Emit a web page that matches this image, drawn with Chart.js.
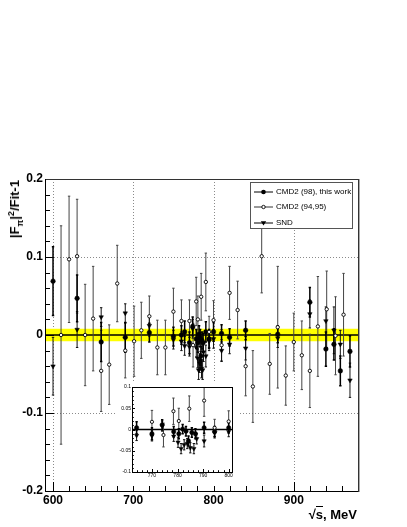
<!DOCTYPE html>
<html><head><meta charset="utf-8">
<script src="https://cdn.jsdelivr.net/npm/chart.js@4.4.1/dist/chart.umd.min.js"></script>
<style>
html,body{margin:0;padding:0;background:#fff;}
#wrap{position:relative;width:407px;height:527px;overflow:hidden;font-family:"Liberation Sans",Arial,Helvetica,sans-serif;}
#main{position:absolute;left:0;top:0;}
#insetBox{position:absolute;left:117px;top:382px;width:121px;height:104px;background:#fff;}
#inset{position:absolute;left:0;top:0;}
#legend{position:absolute;left:250px;top:182px;width:101px;height:45px;border:1px solid #555;background:#fff;will-change:transform;transform:translateZ(0);-webkit-font-smoothing:antialiased;}
#legend .row{position:absolute;left:0;height:10px;width:101px;}
#legend svg{position:absolute;left:2px;top:0;}
#legend span{position:absolute;left:25px;top:0;font-size:8px;line-height:10px;color:#000;white-space:nowrap;}
#ytitle{position:absolute;left:7px;top:180px;transform-origin:0 0;transform:rotate(-90deg) translateX(-100%);font-weight:bold;font-size:13px;line-height:15px;white-space:nowrap;color:#000;}
#ytitle sub,#ytitle sup{font-size:9px;line-height:0;}
#xtitle{position:absolute;right:50px;top:507px;font-weight:bold;font-size:13px;line-height:15px;white-space:nowrap;color:#000;}
#xtitle .rad{border-top:1.2px solid #000;padding-top:0px;}
</style>
</head><body>
<div id="wrap">
<canvas id="main" width="407" height="527"></canvas>
<div id="insetBox"><canvas id="inset" width="121" height="104"></canvas></div>
<div id="legend">
  <div class="row" style="top:4px"><svg width="22" height="10"><line x1="1" y1="5" x2="20" y2="5" stroke="#000" stroke-width="1"/><circle cx="10.5" cy="5" r="2.3" fill="#000"/></svg><span id="l0"></span></div>
  <div class="row" style="top:19px"><svg width="22" height="10"><line x1="1" y1="5" x2="20" y2="5" stroke="#333" stroke-width="1"/><circle cx="10.5" cy="5" r="1.7" fill="#fff" stroke="#000" stroke-width="0.9"/></svg><span id="l1"></span></div>
  <div class="row" style="top:35px"><svg width="22" height="10"><line x1="1" y1="5" x2="20" y2="5" stroke="#000" stroke-width="1"/><polygon points="7.8,3.3 13.2,3.3 10.5,7.6" fill="#000"/></svg><span id="l2"></span></div>
</div>
<div id="ytitle">|F<sub>π</sub>|<sup>2</sup>/Fit-1</div>
<div id="xtitle">√<span class="rad">s</span>, MeV</div>
</div>
<script>
// ---- axis ranges and tick labels ----
const xMin = 590, xMax = 980;
const yMin = -0.2, yMax = 0.2;
const xTicks = [600, 700, 800, 900];
const yTicks = [-0.2, -0.1, 0, 0.1, 0.2];
const insetXMin = 762.2, insetXMax = 801.3;
const insetYMin = -0.1, insetYMax = 0.1;
const insetXTicks = [770, 780, 790, 800];
const insetYTicks = [-0.1, -0.05, 0, 0.05, 0.1];
const fitBand = [-0.008, 0.008];
const seriesNames = ['CMD2 (98), this work', 'CMD2 (94,95)', 'SND'];

// ---- CMD2 (98), this work ----
const cmd98X = [600, 630, 660, 690, 720, 750, 760, 764, 770, 774, 778.5, 780.5, 782, 783.3, 784.3, 785.6, 787, 790.4, 794.5, 800, 810, 820, 840, 880, 920, 940, 950, 958, 970];
const cmd98Y = [0.069, 0.047, -0.009, -0.003, 0.003, -0.002, 0.000, 0.004, -0.010, 0.011, -0.005, -0.010, 0.001, -0.004, -0.027, -0.007, -0.010, 0.004, -0.005, 0.004, 0.002, -0.003, 0.006, 0.001, 0.042, -0.018, -0.012, -0.046, -0.021];
const cmd98Err = [0.044, 0.030, 0.025, 0.019, 0.012, 0.012, 0.012, 0.014, 0.014, 0.012, 0.012, 0.012, 0.011, 0.011, 0.012, 0.011, 0.012, 0.013, 0.012, 0.012, 0.011, 0.011, 0.012, 0.011, 0.019, 0.022, 0.020, 0.019, 0.020];

// ---- CMD2 (94,95) ----
const cmd9495X = [610, 620, 630, 640, 650, 660, 670, 680, 690, 701, 710, 720, 730, 740, 750, 760, 770, 774.5, 778.4, 780.5, 784.6, 790.4, 794.5, 800, 810, 820, 830, 840, 849, 860, 870, 880, 890, 900, 910, 920, 930, 941, 952, 962];
const cmd9495Y = [0.000, 0.097, 0.101, 0.000, 0.021, -0.046, -0.038, 0.066, -0.020, -0.008, 0.006, 0.024, -0.016, -0.016, 0.030, 0.018, 0.018, -0.013, 0.043, 0.020, 0.049, 0.068, 0.004, 0.019, -0.013, 0.054, 0.032, -0.040, -0.066, 0.101, -0.037, 0.010, -0.052, -0.009, -0.026, -0.046, 0.011, 0.033, -0.001, 0.026];
const cmd9495Err = [0.140, 0.081, 0.073, 0.065, 0.067, 0.052, 0.051, 0.049, 0.035, 0.045, 0.036, 0.026, 0.035, 0.035, 0.030, 0.027, 0.027, 0.028, 0.031, 0.030, 0.030, 0.037, 0.020, 0.025, 0.020, 0.034, 0.037, 0.038, 0.046, 0.047, 0.039, 0.078, 0.038, 0.037, 0.044, 0.047, 0.064, 0.049, 0.050, 0.053];

// ---- SND ----
const sndX = [600, 630, 660, 690, 720, 750, 760, 764, 770, 774, 778.5, 780.2, 781.4, 782.6, 783.8, 785, 786.4, 787.5, 790.4, 794.5, 800, 810, 820, 840, 880, 920, 940, 950, 958, 970];
const sndY = [-0.040, 0.007, 0.023, 0.028, 0.012, -0.006, -0.008, -0.014, -0.015, 0.008, -0.016, -0.030, -0.045, -0.036, -0.033, -0.043, -0.045, -0.022, -0.027, -0.008, -0.005, -0.020, -0.012, -0.017, -0.004, 0.027, 0.018, 0.006, -0.012, -0.058];
const sndErr = [0.037, 0.023, 0.012, 0.012, 0.012, 0.012, 0.012, 0.012, 0.012, 0.012, 0.012, 0.012, 0.012, 0.012, 0.012, 0.012, 0.012, 0.012, 0.014, 0.012, 0.012, 0.014, 0.012, 0.015, 0.012, 0.018, 0.018, 0.030, 0.018, 0.022];

document.getElementById('l0').textContent = seriesNames[0];
document.getElementById('l1').textContent = seriesNames[1];
document.getElementById('l2').textContent = seriesNames[2];

function pts(xs, ys){ return xs.map((x,i)=>({x:x, y:ys[i]})); }
function fmt(v){ const r = Math.round(v*1000)/1000; return r===0 ? '0' : String(r); }

function makeDatasets(sc){
  return [
    {label:seriesNames[1], data:pts(cmd9495X,cmd9495Y), errors:cmd9495Err, errColor:'#444', errWidth:1,
     pointStyle:'circle', pointRadius:1.7*sc, backgroundColor:'#fff', borderColor:'#000', borderWidth:0.9, clip:0},
    {label:seriesNames[2], data:pts(sndX,sndY), errors:sndErr, errColor:'#111', errWidth:1,
     pointStyle:'triangle', rotation:180, pointRadius:2.6*sc, backgroundColor:'#000', borderColor:'#000', borderWidth:0.5, clip:0},
    {label:seriesNames[0], data:pts(cmd98X,cmd98Y), errors:cmd98Err, errColor:'#000', errWidth:1.5,
     pointStyle:'circle', pointRadius:2.3*sc, backgroundColor:'#000', borderColor:'#000', borderWidth:0.5, clip:0}
  ];
}

const rootPlugin = {
  id:'rootStyle',
  beforeDatasetsDraw(chart, args, o){
    const ctx = chart.ctx, a = chart.chartArea, xs = chart.scales.x, ys = chart.scales.y;
    ctx.save();
    ctx.beginPath(); ctx.rect(a.left, a.top, a.right-a.left, a.bottom-a.top); ctx.clip();
    if (o.grid){
      ctx.strokeStyle = '#8a8a8a'; ctx.lineWidth = 1; ctx.setLineDash([1,2]);
      o.gridX.forEach(v=>{ const p = Math.round(xs.getPixelForValue(v))+0.5; ctx.beginPath(); ctx.moveTo(p,a.top); ctx.lineTo(p,a.bottom); ctx.stroke(); });
      o.gridY.forEach(v=>{ const p = Math.round(ys.getPixelForValue(v))+0.5; ctx.beginPath(); ctx.moveTo(a.left,p); ctx.lineTo(a.right,p); ctx.stroke(); });
      ctx.setLineDash([]);
    }
    if (o.band){
      const y1 = ys.getPixelForValue(fitBand[1]), y0 = ys.getPixelForValue(fitBand[0]);
      ctx.fillStyle = '#ffff00'; ctx.fillRect(a.left, y1, a.right-a.left, y0-y1);
    }
    const yz = ys.getPixelForValue(0);
    ctx.strokeStyle = '#000'; ctx.lineWidth = o.fitWidth;
    ctx.beginPath(); ctx.moveTo(a.left, yz); ctx.lineTo(a.right, yz); ctx.stroke();
    chart.data.datasets.forEach(ds=>{
      if(!ds.errors) return;
      ctx.strokeStyle = ds.errColor; ctx.lineWidth = ds.errWidth;
      ds.data.forEach((p,j)=>{
        const px = xs.getPixelForValue(p.x);
        const yt = ys.getPixelForValue(p.y + ds.errors[j]);
        const yb = ys.getPixelForValue(p.y - ds.errors[j]);
        ctx.beginPath(); ctx.moveTo(px, yt); ctx.lineTo(px, yb);
        ctx.moveTo(px-1.2, yt); ctx.lineTo(px+1.2, yt);
        ctx.moveTo(px-1.2, yb); ctx.lineTo(px+1.2, yb);
        ctx.stroke();
      });
    });
    ctx.restore();
  },
  afterDatasetsDraw(chart, args, o){
    const ctx = chart.ctx, a = chart.chartArea, xs = chart.scales.x, ys = chart.scales.y;
    ctx.save();
    ctx.strokeStyle = '#000'; ctx.lineWidth = 1;
    ctx.beginPath();
    for (let k = Math.ceil(xs.min/o.xMinor); k*o.xMinor <= xs.max; k++){
      const v = k*o.xMinor; const major = Math.abs(v/o.xMajor - Math.round(v/o.xMajor)) < 1e-6;
      const p = Math.round(xs.getPixelForValue(v))+0.5; const len = major ? o.majLen : o.minLen;
      ctx.moveTo(p, a.bottom); ctx.lineTo(p, a.bottom-len);
    }
    for (let k = Math.ceil(ys.min/o.yMinor - 1e-6); k*o.yMinor <= ys.max + 1e-9; k++){
      const v = k*o.yMinor; const major = Math.abs(v/o.yMajor - Math.round(v/o.yMajor)) < 1e-6;
      const p = Math.round(ys.getPixelForValue(v))+0.5; const len = major ? o.majLen : o.minLen;
      ctx.moveTo(a.left, p); ctx.lineTo(a.left+len, p);
    }
    ctx.stroke();
    ctx.strokeStyle = o.frameColor; ctx.lineWidth = 1;
    ctx.strokeRect(Math.round(a.left)+0.5, Math.round(a.top)+0.5, Math.round(a.right-a.left), Math.round(a.bottom-a.top));
    ctx.strokeStyle = '#000';
    ctx.beginPath();
    ctx.moveTo(Math.round(a.left)+0.5, a.top); ctx.lineTo(Math.round(a.left)+0.5, a.bottom+0.5);
    ctx.lineTo(a.right, Math.round(a.bottom)+0.5);
    ctx.stroke();
    if (o.rightShade){
      ctx.strokeStyle = '#aaa'; ctx.beginPath();
      ctx.moveTo(Math.round(a.right)+1.5, a.top); ctx.lineTo(Math.round(a.right)+1.5, a.bottom+1); ctx.stroke();
    }
    ctx.restore();
  }
};

function scaleOpts(min, max, ticksArr, font, pad, size, isX){
  return {
    type:'linear', min:min, max:max,
    grid:{display:false, drawTicks:false}, border:{display:false},
    afterBuildTicks(s){ s.ticks = ticksArr.map(v=>({value:v})); },
    afterFit(s){ if(isX) s.height = size; else s.width = size; },
    ticks:{color:'#000', font:font, padding:pad, maxRotation:0, autoSkip:false, callback:(v)=>fmt(v)}
  };
}

new Chart(document.getElementById('main'), {
  type:'scatter',
  data:{datasets:makeDatasets(1)},
  options:{
    responsive:false, animation:false, devicePixelRatio:1,
    layout:{padding:{left:0, top:179, right:49, bottom:6}},
    plugins:{legend:{display:false}, tooltip:{enabled:false},
      rootStyle:{grid:true, gridX:xTicks, gridY:[-0.1, 0.1], band:true, fitWidth:1.6,
        xMinor:20, xMajor:100, yMinor:0.02, yMajor:0.1, majLen:9, minLen:5, frameColor:'#333', rightShade:true}},
    scales:{
      x:scaleOpts(xMin, xMax, xTicks, {family:'"Liberation Sans", Arial, sans-serif', size:12, weight:'bold'}, 2, 30, true),
      y:scaleOpts(yMin, yMax, yTicks, {family:'"Liberation Sans", Arial, sans-serif', size:12, weight:'bold'}, 2, 45, false)
    }
  },
  plugins:[rootPlugin]
});

new Chart(document.getElementById('inset'), {
  type:'scatter',
  data:{datasets:makeDatasets(0.95)},
  options:{
    responsive:false, animation:false, devicePixelRatio:1,
    layout:{padding:{left:0, top:5, right:6, bottom:4}},
    plugins:{legend:{display:false}, tooltip:{enabled:false},
      rootStyle:{grid:false, band:false, fitWidth:1.5,
        xMinor:2, xMajor:10, yMinor:0.01, yMajor:0.05, majLen:3, minLen:1.8, frameColor:'#000', rightShade:false}},
    scales:{
      x:scaleOpts(insetXMin, insetXMax, insetXTicks, {family:'"Liberation Sans", Arial, sans-serif', size:5}, 1, 10, true),
      y:scaleOpts(insetYMin, insetYMax, insetYTicks, {family:'"Liberation Sans", Arial, sans-serif', size:5}, 1, 15, false)
    }
  },
  plugins:[rootPlugin]
});
</script>
</body></html>
